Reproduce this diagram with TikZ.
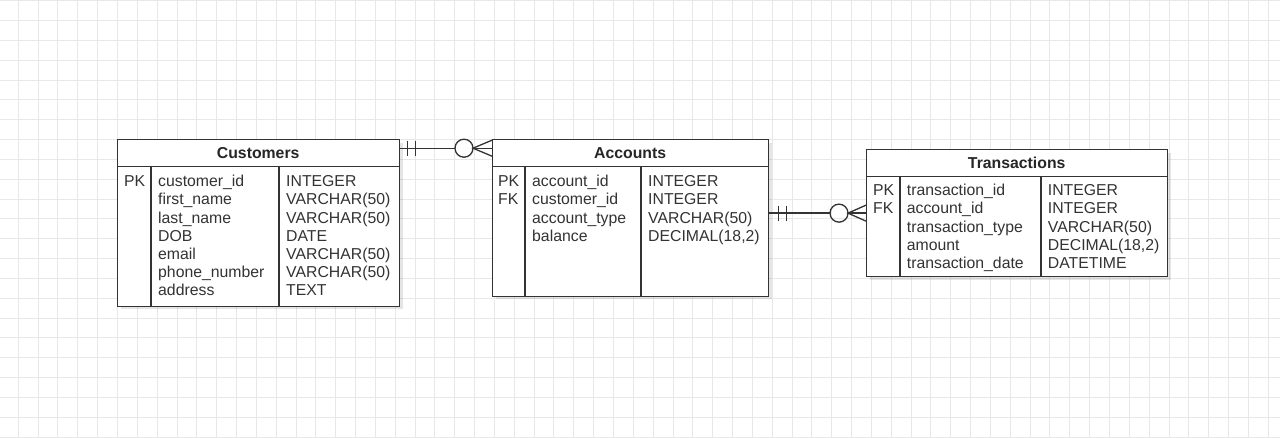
\documentclass[tikz,border=0pt]{standalone}
\usepackage{fontspec}
\setmainfont{Liberation Sans}
\usepackage{tikz}
\usetikzlibrary{positioning, calc, shadows}

\tikzset{
  tbl/.style={draw=black!80, line width=1.3pt, fill=white, anchor=north west, inner sep=0pt,
    drop shadow={shadow xshift=3pt, shadow yshift=-3pt, fill=black, opacity=0.1}},
  tblhead/.style={anchor=north west, inner sep=0pt, text=black!85,
    font=\fontsize{15.8}{18}\selectfont\bfseries},
  cell/.style={anchor=base west, inner sep=0pt, text=black!80},
  conn/.style={draw=black!80, line width=1.3pt},
  gridline/.style={draw=black!9, line width=1pt}
}

\begin{document}
\begin{tikzpicture}[x=1pt, y=-1pt, every node/.style={font=\fontsize{15.8}{18}\selectfont}]
\useasboundingbox[fill=white] (0,0) rectangle (1280,438);
% background grid
\foreach \i in {0,...,63}
  \draw[gridline] ({18.3+19.84*\i},0) -- ({18.3+19.84*\i},438);
\foreach \j in {0,...,22}
  \draw[gridline] (0,{0.7+19.84*\j}) -- (1280,{0.7+19.84*\j});

% Customers
\node[tbl, minimum width=282pt, minimum height=166.7pt] (cust) at (117,139) {};
\node[tblhead, minimum width=282pt, minimum height=27pt] (custhead) at (cust.north west) {Customers};
\draw[conn] (custhead.south west) -- (custhead.south east);
\draw[conn] (151,166) -- (151,305.7);
\draw[conn] (279,166) -- (279,305.7);
\node[cell] (custpk) at (124,186.7) {PK};
\foreach \f/\t [count=\i from 0] in {customer\_id/INTEGER, first\_name/VARCHAR(50),
    last\_name/VARCHAR(50), DOB/DATE, email/VARCHAR(50), phone\_number/VARCHAR(50), address/TEXT}{
  \node[cell] (custf\i) at (158,{186.7+18.2*\i}) {\f};
  \node[cell] (custt\i) at (286,{186.7+18.2*\i}) {\t};
}

% Accounts
\node[tbl, minimum width=276pt, minimum height=156.7pt] (acct) at (492,139) {};
\node[tblhead, minimum width=276pt, minimum height=27pt] (accthead) at (acct.north west) {Accounts};
\draw[conn] (accthead.south west) -- (accthead.south east);
\draw[conn] (525,166) -- (525,295.7);
\draw[conn] (641,166) -- (641,295.7);
\node[cell] (acctpk) at (498,186.7) {PK};
\node[cell] (acctfk) at (498,204.9) {FK};
\foreach \f/\t [count=\i from 0] in {account\_id/INTEGER, customer\_id/INTEGER,
    account\_type/VARCHAR(50), balance/{DECIMAL(18,2)}}{
  \node[cell] (acctf\i) at (532,{186.7+18.2*\i}) {\f};
  \node[cell] (acctt\i) at (648,{186.7+18.2*\i}) {\t};
}

% Transactions
\node[tbl, minimum width=301pt, minimum height=127pt] (trans) at (866,149) {};
\node[tblhead, minimum width=301pt, minimum height=27pt] (transhead) at (trans.north west) {Transactions};
\draw[conn] (transhead.south west) -- (transhead.south east);
\draw[conn] (900,176) -- (900,276);
\draw[conn] (1041,176) -- (1041,276);
\node[cell] (transpk) at (873,195.7) {PK};
\node[cell] (transfk) at (873,213.9) {FK};
\foreach \f/\t [count=\i from 0] in {transaction\_id/INTEGER, account\_id/INTEGER,
    transaction\_type/VARCHAR(50), amount/{DECIMAL(18,2)}, transaction\_date/DATETIME}{
  \node[cell] (transf\i) at (906.7,{195.7+18.2*\i}) {\f};
  \node[cell] (transt\i) at (1047.7,{195.7+18.2*\i}) {\t};
}

% Customers -> Accounts (one to zero-or-many)
\coordinate (ca) at ([yshift=4.5pt]custhead.east);
\coordinate (cb) at (accthead.west |- ca);
\draw[conn] (ca) -- ($(cb)+(-37,0)$);
\draw[conn] ($(ca)+(8,-7.5)$) -- ($(ca)+(8,7.5)$);
\draw[conn] ($(ca)+(16,-7.5)$) -- ($(ca)+(16,7.5)$);
\draw[conn] ($(cb)+(-28,0)$) circle (9pt);
\draw[conn] ($(cb)+(-19,0)$) -- (cb);
\draw[conn] ($(cb)+(0,-8)$) -- ($(cb)+(-19,0)$) -- ($(cb)+(0,8)$);

% Accounts -> Transactions (one to zero-or-many)
\coordinate (ta) at (acct.east |- trans.west);
\coordinate (tb) at (trans.west);
\draw[conn] (ta) -- ($(tb)+(-36,0)$);
\draw[conn] ($(ta)+(9,-7.5)$) -- ($(ta)+(9,7.5)$);
\draw[conn] ($(ta)+(17,-7.5)$) -- ($(ta)+(17,7.5)$);
\draw[conn] ($(tb)+(-27,0)$) circle (9pt);
\draw[conn] ($(tb)+(-18,0)$) -- (tb);
\draw[conn] ($(tb)+(0,-8)$) -- ($(tb)+(-18,0)$) -- ($(tb)+(0,8)$);
\end{tikzpicture}
\end{document}
